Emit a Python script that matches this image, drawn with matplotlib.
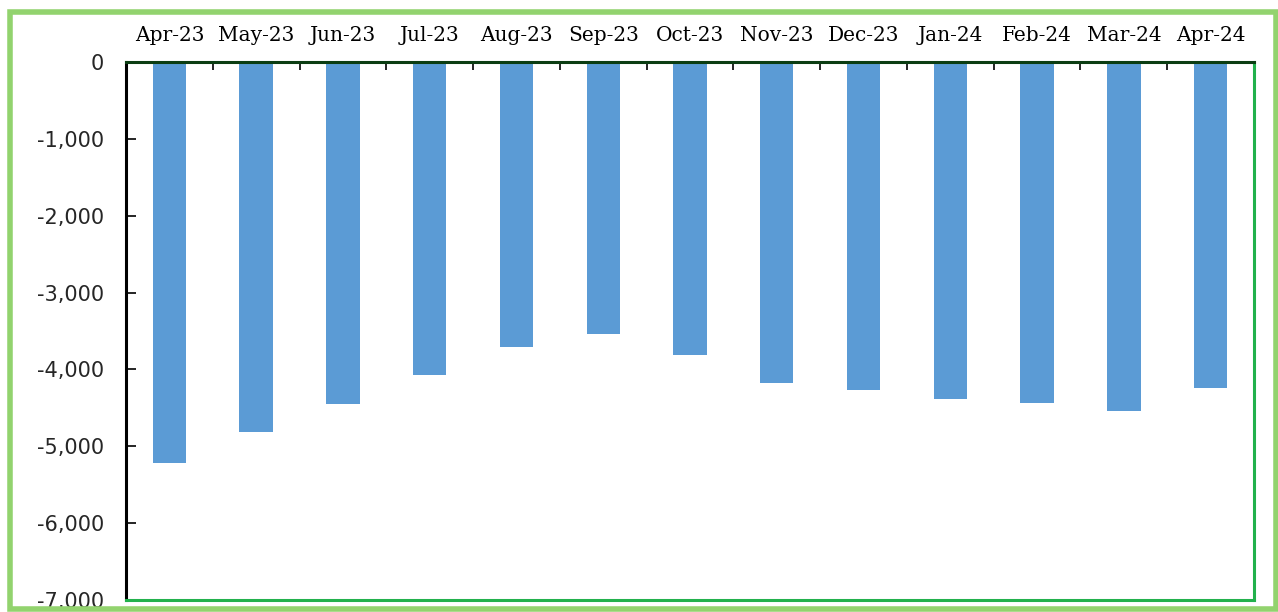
import matplotlib
matplotlib.use("Agg")
import matplotlib.pyplot as plt
from matplotlib.patches import Rectangle
from matplotlib.ticker import FuncFormatter
import numpy as np

months = ["Apr-23", "May-23", "Jun-23", "Jul-23", "Aug-23", "Sep-23", "Oct-23",
          "Nov-23", "Dec-23", "Jan-24", "Feb-24", "Mar-24", "Apr-24"]
values = [-5220, -4810, -4450, -4070, -3705, -3535, -3810,
          -4175, -4265, -4380, -4435, -4540, -4245]

BAR_COLOR = "#5b9bd5"
FRAME_GREEN = "#22b14c"
OUTER_GREEN = "#92d36e"

fig = plt.figure(figsize=(12.78, 6.12), dpi=100)
ax = fig.add_axes([126 / 1278, 12 / 612, (1254 - 126) / 1278, (600 - 62) / 612])

x = np.arange(len(months))
ax.bar(x, values, width=0.385, color=BAR_COLOR)

ax.set_xlim(-0.5, len(months) - 0.5)
ax.set_ylim(-7000, 0)
ax.set_yticks(np.arange(-7000, 1, 1000))
ax.yaxis.set_major_formatter(FuncFormatter(lambda v, p: f"{int(v):,}"))
ax.tick_params(axis="y", direction="in", length=7, width=1.2, pad=16,
               labelsize=15, labelcolor="#262626")

# month labels sit on top, tick marks fall between the categories
ax.xaxis.tick_top()
ax.set_xticks(x)
ax.set_xticklabels(months, family="DejaVu Serif", fontsize=14.5)
ax.set_xticks(np.arange(0.5, len(months) - 1, 1), minor=True)
ax.tick_params(axis="x", which="major", length=0, pad=12)
ax.tick_params(axis="x", which="minor", direction="in", length=6, width=1.2)

ax.spines["left"].set_color("black")
ax.spines["top"].set_color("#0b3d12")
ax.spines["bottom"].set_color(FRAME_GREEN)
ax.spines["right"].set_color(FRAME_GREEN)
for s in ax.spines.values():
    s.set_linewidth(2.2)

fig.patches.append(Rectangle((10 / 1278, 3 / 612), 1266 / 1278, 597 / 612,
                             transform=fig.transFigure, fill=False,
                             edgecolor=OUTER_GREEN, linewidth=4))

fig.savefig("out.png", dpi=100)
